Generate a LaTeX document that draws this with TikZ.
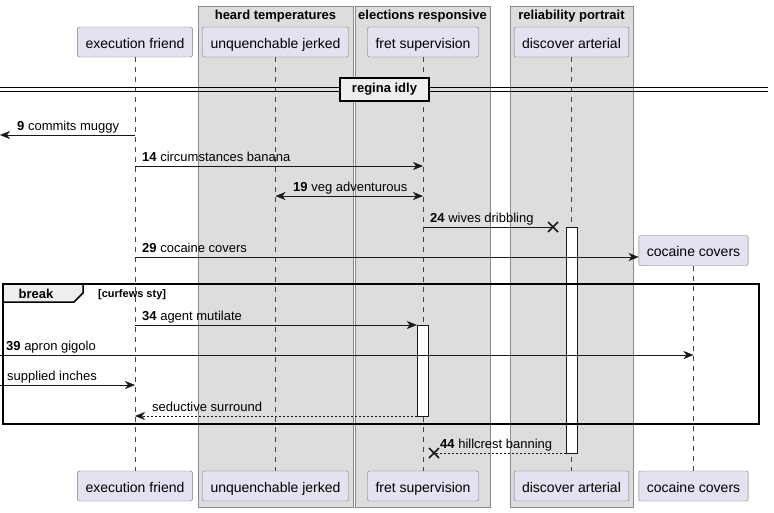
\documentclass[tikz,border=0pt]{standalone}
\usepackage{fontspec}
\setmainfont{Liberation Sans}
\usetikzlibrary{arrows.meta, positioning, calc}
\definecolor{partfill}{HTML}{E2E2F0}
\definecolor{inkline}{HTML}{181818}
\definecolor{grpfill}{HTML}{DDDDDD}
\definecolor{grpline}{HTML}{8A8A8A}
\definecolor{tabfill}{HTML}{EEEEEE}

\begin{document}
\begin{tikzpicture}[x=1pt, y=-1pt,
  pt/.style={rectangle, draw=inkline!60, fill=partfill, rounded corners=2pt,
             minimum height=30pt, inner xsep=8pt, text height=13pt, text depth=1pt,
             font=\fontsize{14}{16}\selectfont},
  grp/.style={draw=grpline, fill=grpfill},
  gtitle/.style={font=\fontsize{13}{15}\selectfont\bfseries, anchor=base, inner sep=0pt},
  life/.style={inkline!80, dash pattern=on 5pt off 5pt},
  act/.style={rectangle, draw=inkline, fill=white, minimum width=11pt, inner sep=0pt},
  msg/.style={-{Stealth[length=10pt, width=8pt, inset=3pt]}, color=inkline},
  ret/.style={msg, dash pattern=on 2pt off 2pt},
  lbl/.style={font=\fontsize{13}{15}\selectfont, anchor=base west, inner sep=0pt},
  cross/.style={line width=1.5pt, color=inkline},
  frm/.style={line width=1.5pt, color=black}
]
\useasboundingbox (0,0) rectangle (774,512);

% Boxes
\draw[grp] (198,6) rectangle (353,507);
\draw[grp] (355,6) rectangle (490,507);
\draw[grp] (510,6) rectangle (633,507);
\node[gtitle] (g1) at (275.5,19.5) {heard temperatures};
\node[gtitle] (g2) at (422.5,19.5) {elections responsive};
\node[gtitle] (g3) at (571.5,19.5) {reliability portrait};

% Participants
\node[pt] (ef) at (135,42) {execution friend};
\node[pt] (uj) at (275.5,42) {unquenchable jerked};
\node[pt] (fs) at (423,42) {fret supervision};
\node[pt] (da) at (571.5,42) {discover arterial};
\node[pt] (efb) at (135,486) {execution friend};
\node[pt] (ujb) at (275.5,486) {unquenchable jerked};
\node[pt] (fsb) at (423,486) {fret supervision};
\node[pt] (dab) at (571.5,486) {discover arterial};
\node[pt] (cc) at (693.5,250.5) {cocaine covers};
\node[pt] (ccb) at (693.5,486) {cocaine covers};

% Lifelines
\draw[life] (ef) -- (efb);
\draw[life] (uj) -- (ujb);
\draw[life] (fs) -- (fsb);
\draw[life] (da) -- (dab);
\draw[life] (cc) -- (ccb);

% Divider
\draw[frm, line width=1pt] (0,87) -- (768,87);
\draw[frm, line width=1pt] (0,91) -- (768,91);
\node[draw, frm, fill=tabfill, minimum width=89pt, minimum height=23pt,
      font=\fontsize{13}{15}\selectfont\bfseries] (div) at (384.5,89.5) {regina idly};

% Activations
\node[act, minimum height=226pt] (actda) at (571.5,340) {};
\node[act, minimum height=91pt] (actfs) at (422.5,370.5) {};

% Message rows
\coordinate (y9) at (0,135);
\coordinate (y14) at (0,166);
\coordinate (y19) at (0,196);
\coordinate (y24) at (0,227);
\coordinate (y29) at (0,257);
\coordinate (y34) at (0,325);
\coordinate (y39) at (0,355);
\coordinate (ysi) at (0,385);
\coordinate (yss) at (0,416);
\coordinate (x24) at (553,227);
\coordinate (x44) at (434,453);

\draw[msg] (ef |- y9) -- (y9);
\node[lbl] (l9) at (17,130) {\textbf{9} commits muggy};
\draw[msg] (ef |- y14) -- (fs |- y14);
\node[lbl] (l14) at (142,161) {\textbf{14} circumstances banana};
\draw[msg, {Stealth[length=10pt, width=8pt, inset=3pt]}-{Stealth[length=10pt, width=8pt, inset=3pt]}] (uj |- y19) -- (fs |- y19);
\node[lbl] (l19) at (293,191) {\textbf{19} veg adventurous};
\draw[color=inkline] (fs |- y24) -- (x24);
\draw[cross] ($(x24)+(-5,-5)$) -- ($(x24)+(5,5)$) ($(x24)+(-5,5)$) -- ($(x24)+(5,-5)$);
\node[lbl] (l24) at (430,222) {\textbf{24} wives dribbling};
\draw[msg] (ef |- y29) -- (cc.west |- y29);
\node[lbl] (l29) at (142,252) {\textbf{29} cocaine covers};

% Break frame
\draw[frm] (3,284) rectangle (759,424);
\draw[frm, fill=tabfill] (3,284) -- (83,284) -- (83,293) -- (74,302) -- (3,302) -- cycle;
\node[font=\fontsize{13}{15}\selectfont\bfseries, anchor=base, inner sep=0pt] (brk) at (36,298) {break};
\node[font=\fontsize{11}{13}\selectfont\bfseries, anchor=base west, inner sep=0pt] (grd) at (98,297) {[curfews sty]};

\draw[msg] (ef |- y34) -- (actfs.west |- y34);
\node[lbl] (l34) at (142,320) {\textbf{34} agent mutilate};
\draw[msg] (y39) -- (cc |- y39);
\node[lbl] (l39) at (6,350) {\textbf{39} apron gigolo};
\draw[msg] (ysi) -- (ef |- ysi);
\node[lbl] (lsi) at (7,380) {supplied inches};
\draw[ret] (actfs.west |- yss) -- (ef |- yss);
\node[lbl] (lss) at (152,411) {seductive surround};

\draw[color=inkline, dash pattern=on 2pt off 2pt] (actda.west |- x44) -- (x44);
\draw[cross] ($(x44)+(-5,-5)$) -- ($(x44)+(5,5)$) ($(x44)+(-5,5)$) -- ($(x44)+(5,-5)$);
\node[lbl] (l44) at (440,448) {\textbf{44} hillcrest banning};
\end{tikzpicture}
\end{document}
